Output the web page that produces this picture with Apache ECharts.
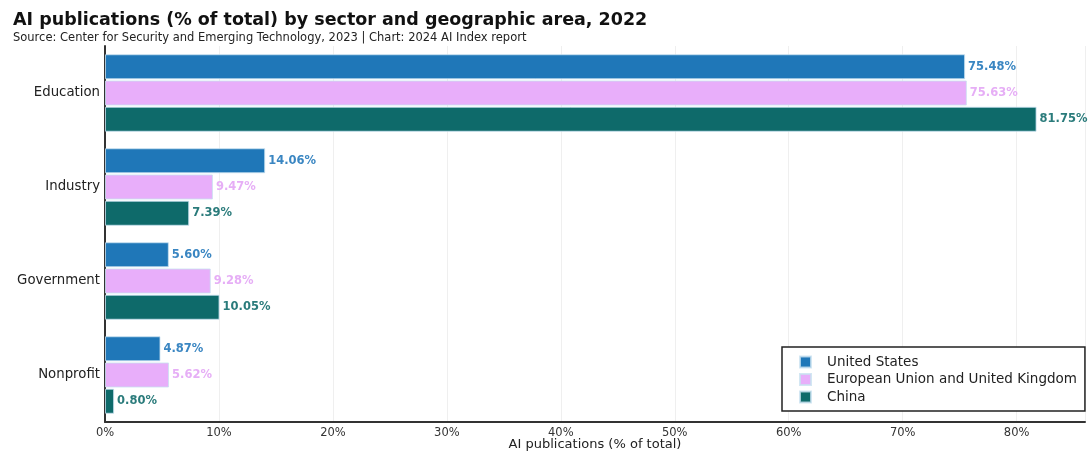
<!DOCTYPE html>
<html><head><meta charset="utf-8">
<script src="https://cdn.jsdelivr.net/npm/echarts@6/dist/echarts.min.js"></script>
<style>html,body{margin:0;padding:0;background:#fff}#c{width:1088px;height:454px}</style>
</head><body><div id="c"></div>
<script>
const categories = ['Education', 'Industry', 'Government', 'Nonprofit'];
const seriesNames = ['United States', 'European Union and United Kingdom', 'China'];
const usValues = [75.48, 14.06, 5.60, 4.87];
const euValues = [75.63, 9.47, 9.28, 5.62];
const cnValues = [81.75, 7.39, 10.05, 0.80];
const xTicks = [0, 10, 20, 30, 40, 50, 60, 70, 80];

const barColors = ['#1f77b8', '#e8aefa', '#0e6a6a'];
const labelColors = ['#3a86c2', '#e6aef6', '#2a7b7b'];
const FONT = '"DejaVu Sans", sans-serif';
const allValues = [usValues, euValues, cnValues];

const chart = echarts.init(document.getElementById('c'), null, {renderer: 'canvas'});
chart.setOption({
  animation: false,
  backgroundColor: '#fff',
  textStyle: {fontFamily: FONT},
  title: {
    text: 'AI publications (% of total) by sector and geographic area, 2022',
    subtext: 'Source: Center for Security and Emerging Technology, 2023 | Chart: 2024 AI Index report',
    left: 8, top: 6, itemGap: 3,
    textStyle: {fontFamily: FONT, fontSize: 17.5, fontWeight: 'bold', color: '#111'},
    subtextStyle: {fontFamily: FONT, fontSize: 11.5, color: '#222'}
  },
  legend: {
    orient: 'vertical',
    left: 782, top: 347,
    padding: [8, 8, 7, 17],
    itemGap: 3.5,
    itemWidth: 11, itemHeight: 11,
    icon: 'rect',
    borderColor: '#222', borderWidth: 1.5,
    backgroundColor: '#fff',
    textStyle: {fontFamily: FONT, fontSize: 13.5, color: '#222', padding: [0, 0, 0, 11]},
    data: seriesNames
  },
  grid: {left: 105, right: 3, top: 46, bottom: 32, containLabel: false, outerBoundsMode: 'none'},
  xAxis: {
    type: 'value', min: 0, max: 86, interval: 10,
    name: 'AI publications (% of total)',
    nameLocation: 'middle', nameGap: 16, nameMoveOverlap: false,
    nameTextStyle: {fontFamily: FONT, fontSize: 13, color: '#222'},
    axisLine: {show: true, lineStyle: {color: '#333', width: 2}},
    axisTick: {show: false},
    axisLabel: {
      fontFamily: FONT, fontSize: 11.5, color: '#333', margin: 5,
      formatter: v => xTicks.includes(v) ? v + '%' : ''
    },
    splitLine: {show: true, lineStyle: {color: '#efefef', width: 1}}
  },
  yAxis: {
    type: 'category', data: categories, inverse: true,
    axisLine: {show: true, lineStyle: {color: '#333', width: 2}},
    axisTick: {show: false},
    axisLabel: {fontFamily: FONT, fontSize: 13.3, color: '#222', margin: 5},
    splitLine: {show: false}
  },
  series: seriesNames.map((name, i) => ({
    name, type: 'bar',
    data: allValues[i],
    barWidth: 25,
    barGap: '5%',
    itemStyle: {color: barColors[i], borderColor: 'rgba(200,225,240,0.8)', borderWidth: 1},
    label: {
      show: true, position: 'right', distance: 3,
      fontFamily: FONT, fontSize: 11.5, fontWeight: 'bold', color: labelColors[i],
      formatter: p => p.value.toFixed(2) + '%'
    }
  }))
});
</script></body></html>
